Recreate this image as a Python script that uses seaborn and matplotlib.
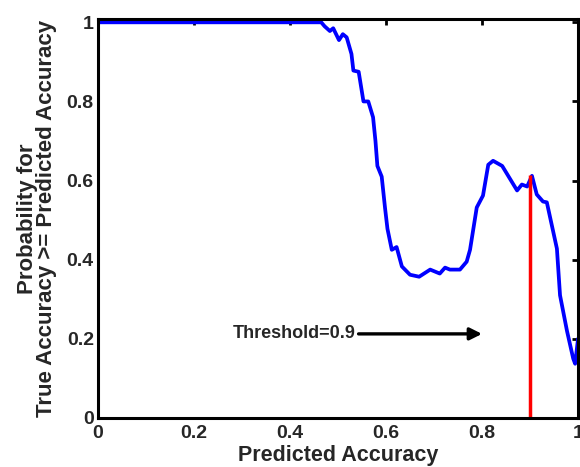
import numpy as np
import pandas as pd
import matplotlib
matplotlib.use("Agg")
import matplotlib.pyplot as plt
import seaborn as sns

# curve
pred_acc = [0.0, 0.465, 0.472, 0.483, 0.49, 0.502, 0.51, 0.518, 0.528, 0.532, 0.543,
            0.553, 0.563, 0.573, 0.578, 0.582, 0.591, 0.598, 0.603, 0.612, 0.622,
            0.633, 0.65, 0.669, 0.692, 0.712, 0.723, 0.733, 0.754, 0.768, 0.775,
            0.789, 0.802, 0.813, 0.823, 0.842, 0.873, 0.883, 0.894, 0.904, 0.914,
            0.927, 0.935, 0.956, 0.9625, 0.977, 0.99, 0.994, 1.0]
prob = [1.0, 1.0, 0.99, 0.978, 0.985, 0.955, 0.97, 0.962, 0.92, 0.878, 0.875,
        0.80, 0.80, 0.76, 0.70, 0.637, 0.61, 0.53, 0.478, 0.425, 0.432,
        0.383, 0.362, 0.357, 0.375, 0.365, 0.38, 0.375, 0.375, 0.395, 0.425,
        0.532, 0.562, 0.64, 0.65, 0.637, 0.575, 0.59, 0.585, 0.612, 0.565,
        0.547, 0.545, 0.428, 0.31, 0.22, 0.15, 0.137, 0.2]

threshold = 0.9
threshold_prob = 0.615
arrow_y = 0.2125
arrow_tail_x = 0.28
arrow_head_x = 0.80

ticks = [0, 0.2, 0.4, 0.6, 0.8, 1]
tick_labels = ["0", "0.2", "0.4", "0.6", "0.8", "1"]

df = pd.DataFrame({"x": pred_acc, "y": prob})

sns.set_style("white")
plt.rcParams["font.family"] = ["Liberation Sans", "DejaVu Sans"]
plt.rcParams["font.weight"] = "bold"

fig = plt.figure(figsize=(5.8, 4.67), dpi=100)
ax = fig.add_axes([0.169, 0.105, 0.8276, 0.854])

sns.lineplot(data=df, x="x", y="y", ax=ax, color="#0000ff", linewidth=2.7,
             sort=False, estimator=None)
ax.vlines(threshold, 0, threshold_prob, color="#ff0000", linewidth=2.5)

ax.annotate("Threshold=0.9", xy=(arrow_head_x, arrow_y), xytext=(arrow_tail_x, arrow_y),
            ha="left", va="center", fontsize=13, fontweight="bold",
            arrowprops=dict(arrowstyle="-|>", color="black", lw=2.4,
                            mutation_scale=18, shrinkA=0, shrinkB=0))

# a touch of headroom so the flat part at 1 shows under the top spine
ax.set_xlim(0, 1)
ax.set_ylim(0, 1.008)
ax.set_xticks(ticks)
ax.set_xticklabels(tick_labels)
ax.set_yticks(ticks)
ax.set_yticklabels(tick_labels)
ax.tick_params(direction="in", length=4, width=2, top=True, right=True,
               labelsize=14, color="black")
ax.tick_params(axis="x", pad=5)
ax.tick_params(axis="y", pad=3)
for lab in ax.get_xticklabels() + ax.get_yticklabels():
    lab.set_fontweight("bold")
for s in ax.spines.values():
    s.set_visible(True)
    s.set_linewidth(2.2)
    s.set_color("black")

ax.set_xlabel("Predicted Accuracy", fontsize=15.5, fontweight="bold", labelpad=2)
ax.set_ylabel("Probability for\nTrue Accuracy >= Predicted Accuracy", fontsize=16,
              fontweight="bold", labelpad=7, linespacing=0.88)

fig.savefig("out.png", dpi=100)
